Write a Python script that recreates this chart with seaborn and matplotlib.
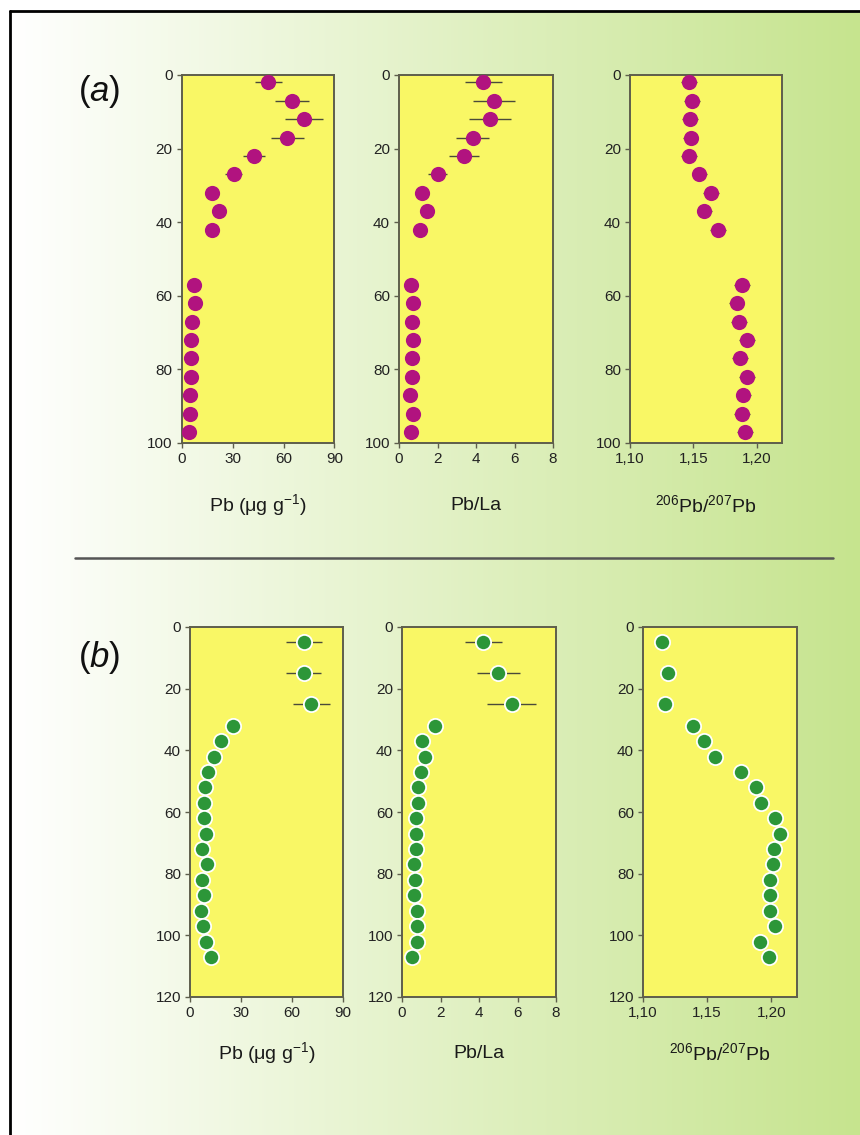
import numpy as np
import matplotlib
matplotlib.use("Agg")
import matplotlib.pyplot as plt
import seaborn as sns

# ---------------- data ----------------
depth_a = [2, 7, 12, 17, 22, 27, 32, 37, 42, 57, 62, 67, 72, 77, 82, 87, 92, 97]
pb_a = [51.1, 64.8, 72.1, 62.3, 42.8, 30.8, 18.1, 22.2, 17.7, 7.5, 7.9, 5.9, 5.3, 5.3, 5.3, 4.9, 4.9, 4.5]
pb_err_a = [7.9, 10.0, 11.0, 9.6, 6.5, 5.0, 3.0, 3.0, 3.0, 1.0, 1.0, 1.0, 1.0, 1.0, 1.0, 1.0, 1.0, 1.0]
pbla_a = [4.38, 4.94, 4.73, 3.83, 3.39, 2.00, 1.17, 1.46, 1.08, 0.64, 0.73, 0.68, 0.73, 0.66, 0.68, 0.56, 0.73, 0.61]
pbla_err_a = [0.97, 1.10, 1.07, 0.87, 0.78, 0.50, 0.20, 0.20, 0.20, 0.10, 0.10, 0.10, 0.10, 0.10, 0.10, 0.10, 0.10, 0.10]
iso_a = [1.1465, 1.1491, 1.1473, 1.1478, 1.1465, 1.1548, 1.1640, 1.1587, 1.1692,
         1.1883, 1.1841, 1.1862, 1.1922, 1.1869, 1.1922, 1.1896, 1.1883, 1.1906]
iso_err_a = [0.0062] * 18

depth_b = [5, 15, 25, 32, 37, 42, 47, 52, 57, 62, 67, 72, 77, 82, 87, 92, 97, 102, 107]
pb_b = [66.9, 66.9, 71.4, 25.4, 18.2, 14.1, 10.8, 8.8, 8.4, 8.4, 9.2, 7.2, 9.8, 6.8, 8.2, 6.3, 7.4, 9.2, 12.3]
pb_err_b = [10.5, 10.3, 10.8, 2.0, 1.5, 1.0, 1.0, 1.0, 1.0, 1.0, 1.0, 1.0, 1.0, 1.0, 1.0, 1.0, 1.0, 1.0, 1.0]
pbla_b = [4.22, 5.00, 5.69, 1.70, 1.06, 1.22, 0.97, 0.83, 0.83, 0.75, 0.71, 0.71, 0.63, 0.69, 0.61, 0.78, 0.78, 0.80, 0.54]
pbla_err_b = [0.96, 1.12, 1.28, 0.30, 0.10, 0.10, 0.10, 0.10, 0.10, 0.10, 0.10, 0.10, 0.10, 0.10, 0.10, 0.10, 0.10, 0.10, 0.10]
iso_b = [1.1150, 1.1197, 1.1171, 1.1387, 1.1474, 1.1558, 1.1763, 1.1882, 1.1921, 1.2026,
         1.2068, 1.2021, 1.2013, 1.1987, 1.1987, 1.1992, 1.2032, 1.1913, 1.1982]
iso_err_b = [0.0060] * 19

xlabels = ["Pb ($\\mu$g g$^{-1}$)", "Pb/La", "$^{206}$Pb/$^{207}$Pb"]
xticks_pb = [0, 30, 60, 90]
xticks_pbla = [0, 2, 4, 6, 8]
xticks_iso = [1.10, 1.15, 1.20]
xticklabels_iso = ["1,10", "1,15", "1,20"]
yticks_a = [0, 20, 40, 60, 80, 100]
yticks_b = [0, 20, 40, 60, 80, 100, 120]
panel_labels = ["a", "b"]

# ---------------- style ----------------
sns.set_style("ticks")
plt.rcParams['font.family'] = ['Liberation Sans', 'DejaVu Sans']
plt.rcParams['mathtext.fontset'] = 'custom'
plt.rcParams['mathtext.rm'] = 'Liberation Sans'
plt.rcParams['mathtext.it'] = 'Liberation Sans:italic'
plt.rcParams['mathtext.default'] = 'regular'

W, H = 860, 1135
fig = plt.figure(figsize=(W / 100, H / 100), dpi=100)

# background gradient and frame
bg = fig.add_axes([0, 0, 1, 1], zorder=-10)
bg.set_xlim(0, W)
bg.set_ylim(H, 0)
bg.axis("off")
xs = np.arange(W)
t = np.clip((xs - 10) / (W - 10), 0, 1)
c0 = np.array([255, 255, 255]) / 255
c1 = np.array([198, 228, 142]) / 255
grad = c0[None, :] * (1 - t[:, None]) + c1[None, :] * t[:, None]
grad[xs < 10] = 1.0
img = np.tile(grad[None, :, :], (2, 1, 1))
bg.imshow(img, extent=[0, W, H, 0], aspect="auto", interpolation="bilinear")
bg.fill_between([0, W], 0, 10.5, color="white", zorder=1)
bg.plot([9.5, W], [10.5, 10.5], color="black", lw=2, zorder=2)
bg.plot([9.5, 9.5], [10.5, H], color="black", lw=2, zorder=2)
bg.plot([75, 833], [558, 558], color="#555555", lw=1.8, zorder=2)

YELLOW = "#f9f765"
SPINE = "#5e5e4c"
MAG = "#b1137f"
GREEN = "#2c9638"
ECOL = "#4a4a3a"


def make_ax(left, right, top, bottom):
    return fig.add_axes([left / W, 1 - bottom / H, (right - left) / W, (bottom - top) / H])


def style_ax(ax, xlim, xticks, xticklabels, ylim, yticks, label, label_off):
    ax.set_facecolor(YELLOW)
    ax.set_xlim(*xlim)
    ax.set_ylim(ylim, 0)
    ax.set_xticks(xticks)
    ax.set_xticklabels(xticklabels)
    ax.set_yticks(yticks)
    ax.set_yticklabels([str(v) for v in yticks])
    for s in ax.spines.values():
        s.set_visible(True)
        s.set_color(SPINE)
        s.set_linewidth(1.4)
    ax.tick_params(axis="both", direction="out", length=3.5, width=1, color=SPINE,
                   labelsize=11, labelcolor="#222222", pad=3)
    ax.set_xlabel(label, fontsize=14, color="#1a1a1a", va="center")
    ax.set_ylabel("")
    bbox_h = ax.get_position().height * H
    ax.xaxis.set_label_coords(0.5, -label_off / bbox_h)


def draw(ax, x, y, err, color, edge, lw):
    ax.errorbar(x, y, xerr=err, fmt="none", ecolor=ECOL, elinewidth=1.0, capsize=0, zorder=2)
    sns.scatterplot(x=x, y=y, ax=ax, color=color, s=120, edgecolor=edge, linewidth=lw, zorder=3, legend=False)


# panel (a)
top_a, bot_a = 75, 443
ax_a = [make_ax(181.5, 334.5, top_a, bot_a), make_ax(399, 553, top_a, bot_a), make_ax(630, 782, top_a, bot_a)]
draw(ax_a[0], pb_a, depth_a, pb_err_a, MAG, MAG, 0)
draw(ax_a[1], pbla_a, depth_a, pbla_err_a, MAG, MAG, 0)
draw(ax_a[2], iso_a, depth_a, iso_err_a, MAG, MAG, 0)
style_ax(ax_a[0], (0, 90), xticks_pb, [str(v) for v in xticks_pb], 100, yticks_a, xlabels[0], 62)
style_ax(ax_a[1], (0, 8), xticks_pbla, [str(v) for v in xticks_pbla], 100, yticks_a, xlabels[1], 62)
style_ax(ax_a[2], (1.10, 1.22), xticks_iso, xticklabels_iso, 100, yticks_a, xlabels[2], 62)

# panel (b)
top_b, bot_b = 627, 997
ax_b = [make_ax(190, 343, top_b, bot_b), make_ax(402, 556, top_b, bot_b), make_ax(643, 797, top_b, bot_b)]
draw(ax_b[0], pb_b, depth_b, pb_err_b, GREEN, "white", 1.3)
draw(ax_b[1], pbla_b, depth_b, pbla_err_b, GREEN, "white", 1.3)
draw(ax_b[2], iso_b, depth_b, iso_err_b, GREEN, "white", 1.3)
style_ax(ax_b[0], (0, 90), xticks_pb, [str(v) for v in xticks_pb], 120, yticks_b, xlabels[0], 56)
style_ax(ax_b[1], (0, 8), xticks_pbla, [str(v) for v in xticks_pbla], 120, yticks_b, xlabels[1], 56)
style_ax(ax_b[2], (1.10, 1.22), xticks_iso, xticklabels_iso, 120, yticks_b, xlabels[2], 56)

# panel labels
fig.text(99 / W, 1 - 91 / H, "($\\mathit{%s}$)" % panel_labels[0], fontsize=25,
         ha="center", va="center", color="#111111")
fig.text(99 / W, 1 - 657 / H, "($\\mathit{%s}$)" % panel_labels[1], fontsize=25,
         ha="center", va="center", color="#111111")

fig.savefig("out.png", dpi=100)
